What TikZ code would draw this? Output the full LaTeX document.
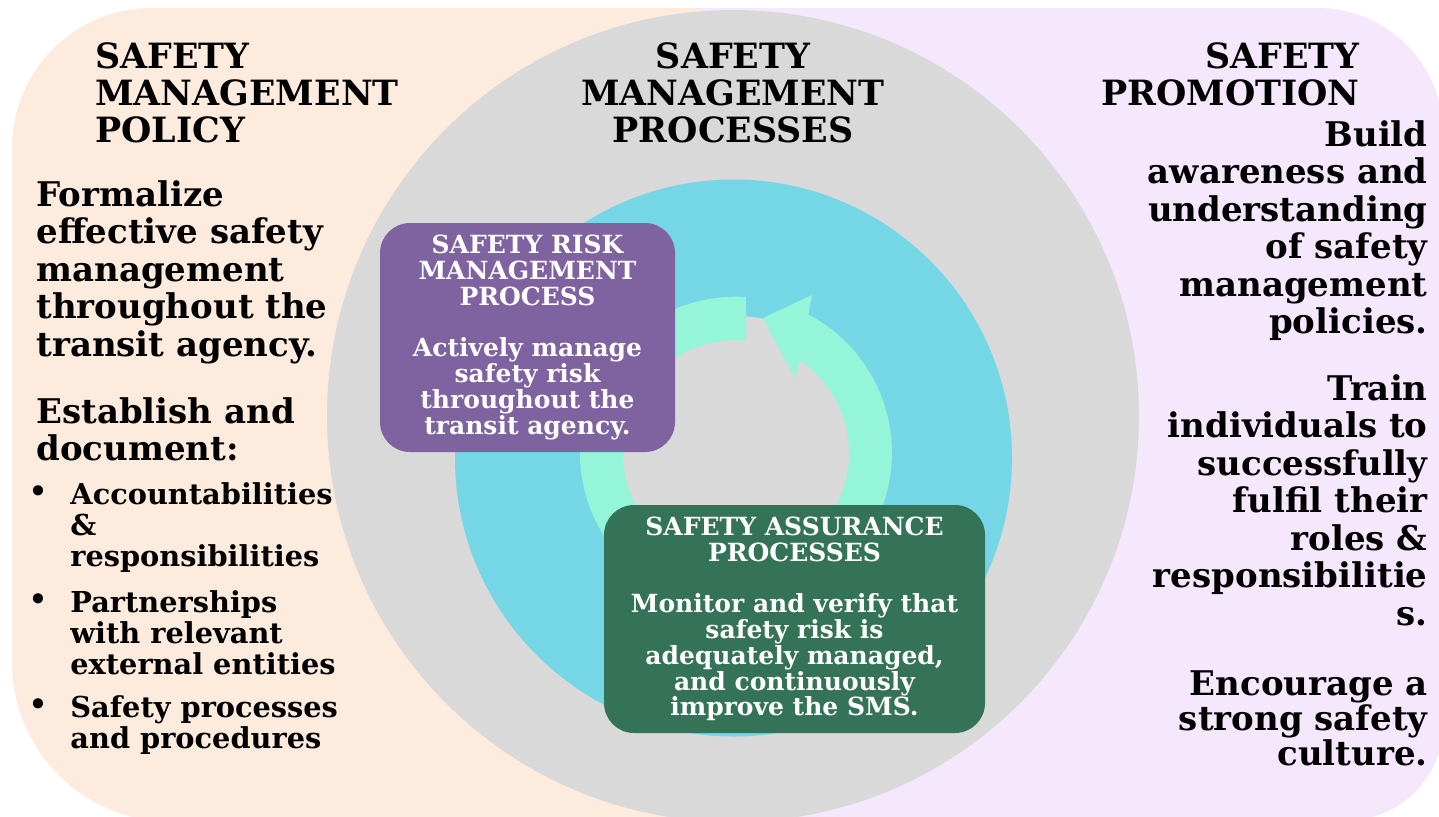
\documentclass[tikz,border=0pt]{standalone}
\usepackage{fontspec}
\setmainfont{DejaVu Serif}
\definecolor{peach}{RGB}{253,235,222}
\definecolor{lav}{RGB}{245,232,253}
\definecolor{gray1}{RGB}{217,217,217}
\definecolor{sky}{RGB}{117,214,230}
\definecolor{mint}{RGB}{148,245,216}
\definecolor{purp}{RGB}{127,98,160}
\definecolor{dgreen}{RGB}{52,115,88}
\begin{document}
\begin{tikzpicture}[x=0.5pt,y=-0.5pt,
  head/.style={inner sep=0pt,font=\fontsize{17.4}{18.5}\selectfont\bfseries},
  body/.style={inner sep=0pt,font=\fontsize{17}{18.75}\selectfont\bfseries},
  bul/.style={inner sep=0pt,align=left,anchor=north west,font=\fontsize{14.4}{15.5}\selectfont\bfseries},
  boxnode/.style={rounded corners=15pt,inner sep=0pt,text=white,align=center,
    font=\fontsize{12.5}{12.9}\selectfont\bfseries}]
\useasboundingbox (0,0) rectangle (1439,816);
\begin{scope}
\clip (0,0) rectangle (1439,816);
\fill[peach] (152,8) arc[start angle=-90,end angle=-180,radius=140] -- (12,662)
  arc[start angle=180,end angle=90,radius=160] -- (800,822) -- (800,8) -- cycle;
\fill[lav] (700,8) -- (1318,8) arc[start angle=-90,end angle=0,radius=125] -- (1443,725)
  arc[start angle=0,end angle=90,radius=95] -- (700,820) -- cycle;
\fill[gray1] (733,416) circle[radius=406];
\fill[sky] (733.5,458) circle[radius=278.5];
\fill[gray1] (736,453) circle[radius=137];
\fill[mint] (746,297) arc[start angle=-86.3,end angle=-422.3,radius=156] -- (812,295)
  -- (763,318) -- (795,378) -- (800,360) arc[start angle=-415.5,end angle=-84.9,radius=113] -- cycle;
\end{scope}

\node[boxnode,fill=purp,minimum width=147.5pt,minimum height=114.5pt] (srm) at (527.5,337.5)
  {SAFETY RISK\\MANAGEMENT\\PROCESS\\[12.9pt]Actively manage\\safety risk\\throughout the\\transit agency.};
\node[boxnode,fill=dgreen,minimum width=190.5pt,minimum height=114pt] (sap) at (794.5,619)
  {SAFETY ASSURANCE\\PROCESSES\\[12.9pt]Monitor and verify that\\safety risk is\\adequately managed,\\and continuously\\improve the SMS.};

\node[head,align=left,anchor=north west] (pol) at (95,42) {SAFETY\\MANAGEMENT\\POLICY};
\node[head,align=center,anchor=north] (proc) at (733,42) {SAFETY\\MANAGEMENT\\PROCESSES};
\node[head,align=right,anchor=north east] (prom) at (1360,42) {SAFETY\\PROMOTION};

\node[body,align=left,anchor=north west] (form) at (36,180)
  {Formalize\\effective safety\\management\\throughout the\\transit agency.};
\node[body,align=left,anchor=north west] (est) at (36,397) {Establish and\\document:};
\node[bul] (b1) at (70,482) {Accountabilities\\\&\\responsibilities};
\node[bul] (b2) at (70,590) {Partnerships\\with relevant\\external entities};
\node[bul] (b3) at (70,695) {Safety processes\\and procedures};
\node[bul,anchor=center] (d1) at (38,494) {•};
\node[bul,anchor=center] (d2) at (38,602) {•};
\node[bul,anchor=center] (d3) at (38,707) {•};

\node[body,align=right,anchor=north east] (build) at (1428,120)
  {Build\\awareness and\\understanding\\of safety\\management\\policies.};
\node[body,align=right,anchor=north east] (train) at (1428,374)
  {Train\\individuals to\\successfully\\fulfil their\\roles \&\\responsibilitie\\s.};
\node[body,align=right,anchor=north east,font=\fontsize{17}{17.5}\selectfont\bfseries] (enc) at (1428,670)
  {Encourage a\\strong safety\\culture.};
\end{tikzpicture}
\end{document}
